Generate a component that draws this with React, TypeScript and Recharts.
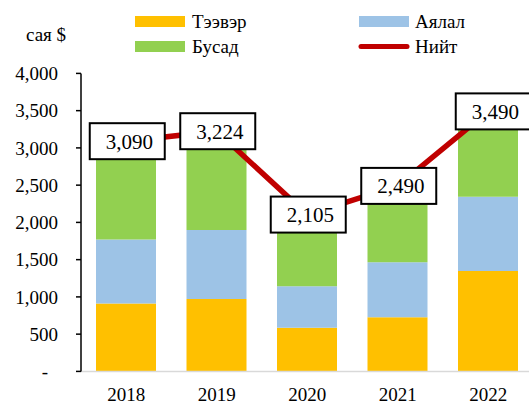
import React from 'react';
import { ComposedChart, Bar, Line, XAxis, YAxis, LabelList } from 'recharts';

const years = ['2018', '2019', '2020', '2021', '2022'];
const transport = [910, 972, 587, 726, 1348];
const travel = [860, 927, 555, 739, 995];
const other = [1320, 1325, 963, 1025, 1147];
const total = [3090, 3224, 2105, 2490, 3490];
const yTicks = [0, 500, 1000, 1500, 2000, 2500, 3000, 3500, 4000];

const seriesNames = { transport: 'Тээвэр', travel: 'Аялал', other: 'Бусад', total: 'Нийт' };
const unitLabel = 'сая $';

const data = years.map((y, i) => ({
  year: y,
  transport: transport[i],
  travel: travel[i],
  other: other[i],
  total: total[i],
}));

const FONT = 'Liberation Serif, Times New Roman, DejaVu Serif, serif';
const TS = (size: number): React.CSSProperties => ({ fontFamily: FONT, fontSize: size });
const C_YELLOW = '#FFC000';
const C_BLUE = '#9DC3E6';
const C_GREEN = '#92D050';
const C_RED = '#C00000';

const fmt = (v: number) => v.toLocaleString('en-US');

const YTick = (props: any) => {
  const { x, y, payload } = props;
  const v = payload.value;
  return (
    <text x={v === 0 ? x - 10 : x} y={y} dy="0.35em" textAnchor="end" style={TS(19)} fill="#000">
      {v === 0 ? '-' : fmt(v)}
    </text>
  );
};

const XTick = (props: any) => {
  const { x, y, payload } = props;
  return (
    <text x={x} y={y} dy="0.71em" textAnchor="middle" style={TS(19)} fill="#000">
      {payload.value}
    </text>
  );
};

const BoxLabel = (props: any) => {
  const { x, y, value, index } = props;
  const cx = x + (index === years.length - 1 ? 5 : 1);
  const w = 75;
  const h = 36;
  return (
    <g>
      <rect x={cx - w / 2} y={y - h / 2} width={w} height={h} fill="#fff" stroke="#000" strokeWidth={2} />
      <text x={cx + 2} y={y} dy="0.36em" textAnchor="middle" style={TS(21)} fill="#000">
        {fmt(value)}
      </text>
    </g>
  );
};

const LegendOverlay = () => (
  <svg width={529} height={70} style={{ position: 'absolute', left: 0, top: 0 }}>
    <rect x={135} y={16} width={50} height={11} fill={C_YELLOW} />
    <text x={192} y={28} style={TS(19)} fill="#000">{seriesNames.transport}</text>
    <rect x={359} y={16} width={50} height={11} fill={C_BLUE} />
    <text x={415} y={28} style={TS(19)} fill="#000">{seriesNames.travel}</text>
    <rect x={135} y={41} width={50} height={11} fill={C_GREEN} />
    <text x={192} y={53} style={TS(19)} fill="#000">{seriesNames.other}</text>
    <line x1={361} y1={46.5} x2={407} y2={46.5} stroke={C_RED} strokeWidth={5} strokeLinecap="round" />
    <text x={415} y={53} style={TS(19)} fill="#000">{seriesNames.total}</text>
    <text x={26} y={41} style={TS(19)} fill="#000">{unitLabel}</text>
  </svg>
);

export default function App() {
  return (
    <div
      style={{
        position: 'fixed',
        left: 0,
        top: 0,
        width: 529,
        height: 401,
        overflow: 'hidden',
        background: '#fff',
      }}
    >
      <ComposedChart
        width={540}
        height={410}
        data={data}
        margin={{ top: 73.4, right: 6.5, bottom: 9, left: 0 }}
        barSize={60}
      >
        <XAxis
          dataKey="year"
          axisLine={{ stroke: '#D9D9D9', strokeWidth: 1.5 }}
          tickLine={false}
          tickSize={0}
          tickMargin={16}
          height={29.6}
          tick={<XTick />}
          interval={0}
        />
        <YAxis
          domain={[0, 4000]}
          ticks={yTicks}
          width={81}
          axisLine={{ stroke: '#000', strokeWidth: 1.5 }}
          tickLine={{ stroke: '#000', strokeWidth: 1.5 }}
          tickSize={5}
          tickMargin={18}
          tick={<YTick />}
          interval={0}
        />
        <Bar dataKey="transport" stackId="a" fill={C_YELLOW} isAnimationActive={false} />
        <Bar dataKey="travel" stackId="a" fill={C_BLUE} isAnimationActive={false} />
        <Bar dataKey="other" stackId="a" fill={C_GREEN} isAnimationActive={false} />
        <Line
          dataKey="total"
          stroke={C_RED}
          strokeWidth={5.5}
          dot={false}
          activeDot={false}
          isAnimationActive={false}
        >
          <LabelList dataKey="total" content={<BoxLabel />} />
        </Line>
      </ComposedChart>
      <LegendOverlay />
    </div>
  );
}
